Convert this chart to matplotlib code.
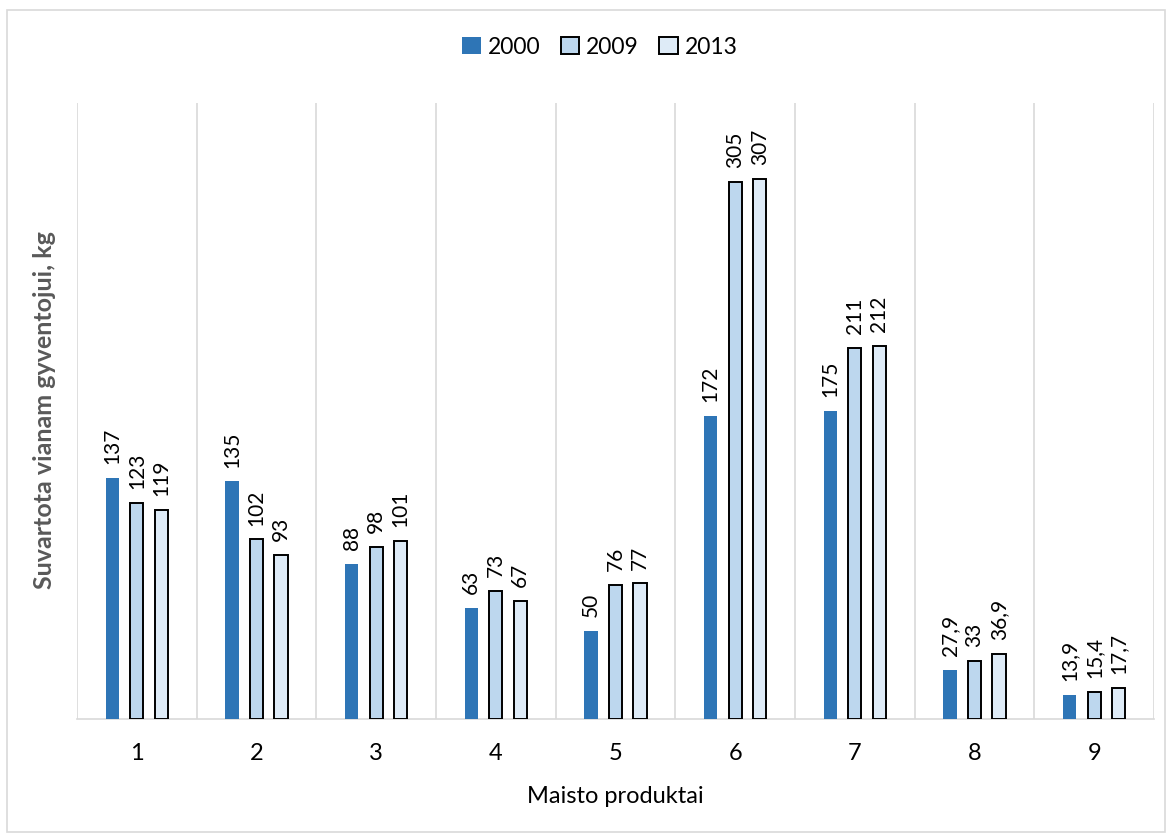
import matplotlib
matplotlib.use("Agg")
import matplotlib.pyplot as plt
import numpy as np
from matplotlib.patches import Rectangle

plt.rcParams['font.family'] = ['Lato', 'DejaVu Sans']

categories = ['1', '2', '3', '4', '5', '6', '7', '8', '9']
series_names = ['2000', '2009', '2013']
v2000 = [137, 135, 88, 63, 50, 172, 175, 27.9, 13.9]
v2009 = [123, 102, 98, 73, 76, 305, 211, 33, 15.4]
v2013 = [119, 93, 101, 67, 77, 307, 212, 36.9, 17.7]
lab2000 = ['137', '135', '88', '63', '50', '172', '175', '27,9', '13,9']
lab2009 = ['123', '102', '98', '73', '76', '305', '211', '33', '15,4']
lab2013 = ['119', '93', '101', '67', '77', '307', '212', '36,9', '17,7']

colors = ['#2E75B6', '#BDD7EE', '#DEEBF7']
edges = ['none', 'black', 'black']

W, H = 1172, 839
fig = plt.figure(figsize=(W / 100, H / 100), dpi=100)
ax = fig.add_axes([77 / W, 1 - 719 / H, (1154 - 77) / W, (719 - 103) / H])

x = np.arange(len(categories))
offs = [-0.205, 0, 0.205]
bw = 0.11
allvals = [v2000, v2009, v2013]
alllabs = [lab2000, lab2009, lab2013]
handles = []
for i in range(3):
    bars = ax.bar(x + offs[i], allvals[i], width=bw, color=colors[i],
                  edgecolor=edges[i], linewidth=1.4 if i else 0, zorder=3,
                  label=series_names[i])
    handles.append(bars)
    for xi, v, lab in zip(x + offs[i], allvals[i], alllabs[i]):
        ax.annotate(lab, (xi, v), xytext=(0, 10), textcoords='offset points',
                    rotation=90, ha='center', va='bottom', fontsize=15,
                    color='#000000')

ax.set_xlim(-0.5, len(categories) - 0.5)
ax.set_ylim(0, 350)
ax.set_yticks([])
ax.set_xticks(x)
ax.set_xticklabels(categories, fontsize=17)
ax.tick_params(axis='x', length=0, pad=17)
for b in np.arange(-0.5, len(categories) + 0.5, 1):
    ax.axvline(b, color='#D9D9D9', linewidth=1.2, zorder=1)
for s in ['top', 'right', 'left']:
    ax.spines[s].set_visible(False)
ax.spines['bottom'].set_color('#D9D9D9')
ax.spines['bottom'].set_linewidth(1.2)

ax.set_xlabel('Maisto produktai', fontsize=17, labelpad=16)
fig.text(45 / W, 1 - 410 / H, 'Suvartota vianam gyventojui, kg', rotation=90,
         ha='center', va='center', fontsize=18, fontweight='bold',
         color='#595959')

leg = fig.legend(handles=handles, labels=series_names, loc='center',
                 bbox_to_anchor=(600 / W, 1 - 47 / H), ncol=3, frameon=False,
                 fontsize=16.5, handlelength=0.8, handleheight=0.8,
                 handletextpad=0.3, columnspacing=0.9)

fig.patches.append(Rectangle((7 / W, 1 - 832 / H), (1165 - 7) / W, (832 - 10) / H,
                             transform=fig.transFigure, fill=False,
                             edgecolor='#D9D9D9', linewidth=1.2))

fig.savefig('out.png', dpi=100, facecolor='white')
